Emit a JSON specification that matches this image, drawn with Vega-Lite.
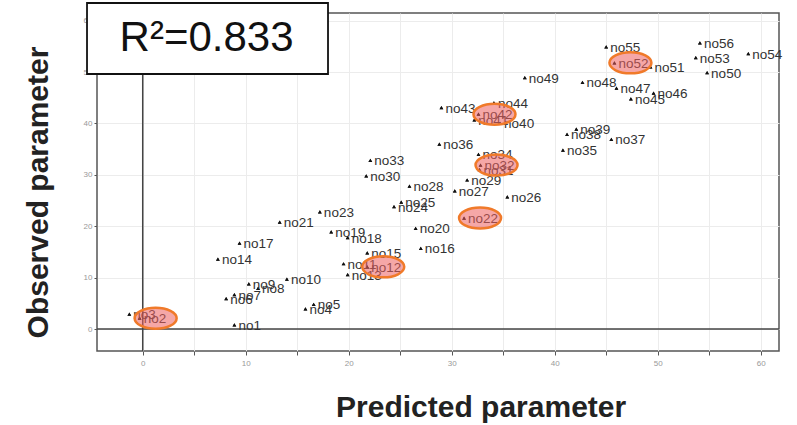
{
  "$schema": "https://vega.github.io/schema/vega-lite/v6.json",
  "width": 682,
  "height": 338,
  "autosize": {"type": "none"},
  "padding": {"left": 97, "top": 13, "right": 18, "bottom": 74},
  "background": "white",
  "config": {"view": {"stroke": "#555", "strokeWidth": 1.5}, "font": "Liberation Sans"},
  "datasets": {
    "points": [
      {"name": "no1", "pred": 8.9, "obs": 0.8, "hl": false},
      {"name": "no2", "pred": -0.3, "obs": 2.1, "hl": true},
      {"name": "no3", "pred": -1.3, "obs": 2.9, "hl": false},
      {"name": "no4", "pred": 15.8, "obs": 3.9, "hl": false},
      {"name": "no5", "pred": 16.6, "obs": 4.8, "hl": false},
      {"name": "no6", "pred": 8.1, "obs": 5.9, "hl": false},
      {"name": "no7", "pred": 8.9, "obs": 6.7, "hl": false},
      {"name": "no8", "pred": 11.2, "obs": 7.9, "hl": false},
      {"name": "no9", "pred": 10.3, "obs": 8.8, "hl": false},
      {"name": "no10", "pred": 14.0, "obs": 9.7, "hl": false},
      {"name": "no11", "pred": 19.5, "obs": 12.7, "hl": false},
      {"name": "no12", "pred": 21.8, "obs": 12.1, "hl": true},
      {"name": "no13", "pred": 19.9, "obs": 10.6, "hl": false},
      {"name": "no14", "pred": 7.3, "obs": 13.6, "hl": false},
      {"name": "no15", "pred": 21.8, "obs": 14.8, "hl": false},
      {"name": "no16", "pred": 27.0, "obs": 15.7, "hl": false},
      {"name": "no17", "pred": 9.4, "obs": 16.7, "hl": false},
      {"name": "no18", "pred": 19.9, "obs": 17.8, "hl": false},
      {"name": "no19", "pred": 18.3, "obs": 18.9, "hl": false},
      {"name": "no20", "pred": 26.5, "obs": 19.6, "hl": false},
      {"name": "no21", "pred": 13.3, "obs": 20.8, "hl": false},
      {"name": "no22", "pred": 31.2, "obs": 21.6, "hl": true},
      {"name": "no23", "pred": 17.2, "obs": 22.8, "hl": false},
      {"name": "no24", "pred": 24.4, "obs": 23.8, "hl": false},
      {"name": "no25", "pred": 25.1, "obs": 24.7, "hl": false},
      {"name": "no26", "pred": 35.4, "obs": 25.7, "hl": false},
      {"name": "no27", "pred": 30.3, "obs": 26.9, "hl": false},
      {"name": "no28", "pred": 25.9, "obs": 27.8, "hl": false},
      {"name": "no29", "pred": 31.5, "obs": 29.0, "hl": false},
      {"name": "no30", "pred": 21.7, "obs": 29.8, "hl": false},
      {"name": "no31", "pred": 32.7, "obs": 31.0, "hl": false},
      {"name": "no32", "pred": 32.8, "obs": 31.9, "hl": true},
      {"name": "no33", "pred": 22.1, "obs": 32.8, "hl": false},
      {"name": "no34", "pred": 32.6, "obs": 34.0, "hl": false},
      {"name": "no35", "pred": 40.8, "obs": 34.8, "hl": false},
      {"name": "no36", "pred": 28.8, "obs": 36.0, "hl": false},
      {"name": "no37", "pred": 45.5, "obs": 36.9, "hl": false},
      {"name": "no38", "pred": 41.2, "obs": 37.9, "hl": false},
      {"name": "no39", "pred": 42.1, "obs": 38.9, "hl": false},
      {"name": "no40", "pred": 34.7, "obs": 40.0, "hl": false},
      {"name": "no41", "pred": 32.2, "obs": 40.7, "hl": false},
      {"name": "no42", "pred": 32.6, "obs": 41.8, "hl": true},
      {"name": "no43", "pred": 29.0, "obs": 43.1, "hl": false},
      {"name": "no44", "pred": 34.1, "obs": 44.0, "hl": false},
      {"name": "no45", "pred": 47.4, "obs": 44.8, "hl": false},
      {"name": "no46", "pred": 49.6, "obs": 45.9, "hl": false},
      {"name": "no47", "pred": 46.0, "obs": 46.9, "hl": false},
      {"name": "no48", "pred": 42.7, "obs": 48.0, "hl": false},
      {"name": "no49", "pred": 37.1, "obs": 48.9, "hl": false},
      {"name": "no50", "pred": 54.8, "obs": 49.9, "hl": false},
      {"name": "no51", "pred": 49.3, "obs": 51.0, "hl": false},
      {"name": "no52", "pred": 45.8, "obs": 51.8, "hl": true},
      {"name": "no53", "pred": 53.7, "obs": 52.8, "hl": false},
      {"name": "no54", "pred": 58.8, "obs": 53.6, "hl": false},
      {"name": "no55", "pred": 45.0, "obs": 54.9, "hl": false},
      {"name": "no56", "pred": 54.1, "obs": 55.7, "hl": false}
    ],
    "zero": [{"v": 0}],
    "box": [{"x1": -5.41, "x2": 17.99, "y1": 49.63, "y2": 63.45, "cx": 6.2, "cy": 56.7, "label": "R²=0.833"}]
  },
  "layer": [
    {
      "data": {"name": "points"},
      "mark": {"type": "point", "shape": "triangle-up", "size": 14, "filled": true, "color": "#111", "opacity": 1},
      "encoding": {
        "x": {
          "field": "pred", "type": "quantitative", "title": "Predicted parameter",
          "scale": {"domain": [-4.44, 61.78], "nice": false, "zero": false},
          "axis": {
            "values": [0, 5, 10, 15, 20, 25, 30, 35, 40, 45, 50, 55, 60],
            "labelExpr": "datum.value % 10 === 0 ? datum.label : ''",
            "grid": true, "gridColor": "#ececec", "domain": false,
            "tickColor": "#555", "tickSize": 4, "labelColor": "#999", "labelFontSize": 8, "labelPadding": 4,
            "titleFontSize": 30, "titleFontWeight": "bold", "titleColor": "#222",
            "titleX": 383.6, "titleY": 65, "titleBaseline": "alphabetic", "titleAlign": "center"
          }
        },
        "y": {
          "field": "obs", "type": "quantitative", "title": "Observed parameter",
          "scale": {"domain": [-4.28, 61.5], "nice": false, "zero": false},
          "axis": {
            "values": [0, 5, 10, 15, 20, 25, 30, 35, 40, 45, 50, 55, 60],
            "labelExpr": "datum.value % 10 === 0 ? datum.label : ''",
            "grid": true, "gridColor": "#ececec", "domain": false,
            "tickColor": "#555", "tickSize": 3, "labelColor": "#999", "labelFontSize": 8, "labelPadding": 2,
            "titleFontSize": 30, "titleFontWeight": "bold", "titleColor": "#222",
            "titleX": -50, "titleY": 179, "titleBaseline": "alphabetic", "titleAlign": "center", "titleAngle": -90
          }
        }
      }
    },
    {
      "data": {"name": "zero"},
      "mark": {"type": "rule", "color": "#444", "strokeWidth": 1.5},
      "encoding": {
        "x": {"field": "v", "type": "quantitative", "title": "Predicted parameter", "scale": {"domain": [-4.44, 61.78], "nice": false, "zero": false}}
      }
    },
    {
      "data": {"name": "zero"},
      "mark": {"type": "rule", "color": "#444", "strokeWidth": 1.5},
      "encoding": {
        "y": {"field": "v", "type": "quantitative", "title": "Observed parameter", "scale": {"domain": [-4.28, 61.5], "nice": false, "zero": false}}
      }
    },
    {
      "data": {"name": "points"},
      "mark": {"type": "point", "shape": "triangle-up", "size": 14, "filled": true, "color": "#111", "opacity": 1},
      "encoding": {
        "x": {"field": "pred", "type": "quantitative", "title": "Predicted parameter", "scale": {"domain": [-4.44, 61.78], "nice": false, "zero": false}},
        "y": {"field": "obs", "type": "quantitative", "title": "Observed parameter", "scale": {"domain": [-4.28, 61.5], "nice": false, "zero": false}}
      }
    },
    {
      "data": {"name": "points"},
      "mark": {"type": "text", "align": "left", "baseline": "middle", "dx": 4, "dy": 1, "fontSize": 13.5, "color": "#333"},
      "encoding": {
        "x": {"field": "pred", "type": "quantitative", "title": "Predicted parameter", "scale": {"domain": [-4.44, 61.78], "nice": false, "zero": false}},
        "y": {"field": "obs", "type": "quantitative", "title": "Observed parameter", "scale": {"domain": [-4.28, 61.5], "nice": false, "zero": false}},
        "text": {"field": "name"}
      }
    },
    {
      "data": {"name": "points"},
      "transform": [{"filter": "datum.hl"}],
      "mark": {
        "type": "point", "shape": "M -2 0 A 2 1 0 1 0 2 0 A 2 1 0 1 0 -2 0 Z", "size": 441,
        "filled": true, "fill": "#ec5f5f", "fillOpacity": 0.55, "opacity": 1,
        "stroke": "#f07a2a", "strokeWidth": 2.5, "strokeOpacity": 1, "xOffset": 16
      },
      "encoding": {
        "x": {"field": "pred", "type": "quantitative", "title": "Predicted parameter", "scale": {"domain": [-4.44, 61.78], "nice": false, "zero": false}},
        "y": {"field": "obs", "type": "quantitative", "title": "Observed parameter", "scale": {"domain": [-4.28, 61.5], "nice": false, "zero": false}}
      }
    },
    {
      "data": {"name": "box"},
      "mark": {"type": "rect", "fill": "white", "stroke": "#111", "strokeWidth": 1.8, "clip": false},
      "encoding": {
        "x": {"field": "x1", "type": "quantitative", "title": "Predicted parameter", "scale": {"domain": [-4.44, 61.78], "nice": false, "zero": false}},
        "x2": {"field": "x2"},
        "y": {"field": "y1", "type": "quantitative", "title": "Observed parameter", "scale": {"domain": [-4.28, 61.5], "nice": false, "zero": false}},
        "y2": {"field": "y2"}
      }
    },
    {
      "data": {"name": "box"},
      "mark": {"type": "text", "align": "center", "baseline": "middle", "fontSize": 42, "color": "#111", "clip": false},
      "encoding": {
        "x": {"field": "cx", "type": "quantitative", "title": "Predicted parameter", "scale": {"domain": [-4.44, 61.78], "nice": false, "zero": false}},
        "y": {"field": "cy", "type": "quantitative", "title": "Observed parameter", "scale": {"domain": [-4.28, 61.5], "nice": false, "zero": false}},
        "text": {"field": "label"}
      }
    }
  ]
}
